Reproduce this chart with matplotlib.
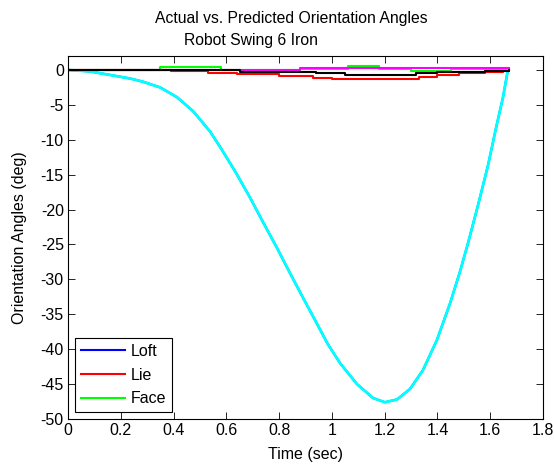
import matplotlib
matplotlib.use("Agg")
import matplotlib.pyplot as plt

plt.rcParams['font.family'] = ['Liberation Sans', 'DejaVu Sans']
plt.rcParams['axes.unicode_minus'] = False

# Loft (actual ~ predicted)
t_loft = [0, 0.083, 0.171, 0.235, 0.284, 0.349, 0.413, 0.474, 0.538, 0.576, 0.633,
          0.690, 0.739, 0.792, 0.841, 0.891, 0.944, 0.985, 1.031, 1.095, 1.156, 1.201,
          1.247, 1.296, 1.345, 1.398, 1.447, 1.485, 1.516, 1.554, 1.592, 1.622, 1.648, 1.667]
loft_actual = [0, -0.21, -0.79, -1.22, -1.68, -2.5, -3.9, -5.9, -8.8, -11.0, -14.5,
               -18.3, -21.8, -25.5, -29.08, -32.66, -36.39, -39.3, -42.0, -45.0, -47.0, -47.6,
               -47.2, -45.7, -43.0, -38.68, -33.52, -28.94, -24.79, -19.34, -13.61, -8.3, -4.0, 0]
loft_pred = loft_actual

# Lie
t_lie = [0, 0.26, 0.39, 0.53, 0.64, 0.80, 0.93, 1.0, 1.25, 1.33, 1.40, 1.48, 1.58, 1.65, 1.67]
lie_actual = [0, -0.05, -0.15, -0.38, -0.62, -0.86, -1.1, -1.34, -1.34, -0.95, -0.7, -0.45, -0.3, -0.1, 0]
t_lie_p = [0, 0.39, 0.65, 0.94, 1.05, 1.32, 1.40, 1.58, 1.67]
lie_pred = [0, -0.05, -0.3, -0.48, -0.67, -0.48, -0.3, -0.1, 0]

# Face
t_face = [0, 0.35, 0.58, 0.88, 1.06, 1.18, 1.30, 1.45, 1.67]
face_actual = [0, 0.38, 0.0, 0.1, 0.5, 0.2, -0.1, 0.1, 0]
t_face_p = [0, 0.88, 1.67]
face_pred = [0, 0.3, 0.3]

fig = plt.figure(figsize=(5.54, 4.66), dpi=100)
ax = fig.add_axes([68/554, 1-419/466, 475/554, 363/466])

lw = 1.5
ax.plot(t_loft, loft_actual, color=(0, 0, 1), lw=lw, label='Loft')
ax.plot(t_lie, lie_actual, color=(1, 0, 0), lw=lw, label='Lie', drawstyle='steps-post')
ax.plot(t_face, face_actual, color=(0, 1, 0), lw=lw, label='Face', drawstyle='steps-post')
ax.plot(t_loft, loft_pred, color=(0, 1, 1), lw=2.0)
ax.plot(t_face_p, face_pred, color=(1, 0, 1), lw=lw, drawstyle='steps-post')
ax.plot(t_lie_p, lie_pred, color='black', lw=lw, drawstyle='steps-post')

ax.set_xlim(0, 1.8)
ax.set_ylim(-50, 2)
ax.set_xticks([0, 0.2, 0.4, 0.6, 0.8, 1, 1.2, 1.4, 1.6, 1.8])
ax.set_xticklabels(['0', '0.2', '0.4', '0.6', '0.8', '1', '1.2', '1.4', '1.6', '1.8'])
ax.set_yticks(list(range(-50, 1, 5)))
ax.tick_params(direction='in', top=True, right=True, labelsize=11.5, length=5, width=0.6, pad=3)
for s in ax.spines.values():
    s.set_linewidth(0.8)

ax.set_xlabel('Time (sec)', fontsize=11.5)
ax.set_ylabel('Orientation Angles (deg)', fontsize=11.5)
ax.xaxis.set_label_coords(237/475, -36/363)
ax.yaxis.set_label_coords(-48/475, 0.5)
ax.xaxis.label.set_va('center')
ax.yaxis.label.set_va('center')

fig.text(291/554, 1-18/466, 'Actual vs. Predicted Orientation Angles', ha='center', va='center', fontsize=11.3)
fig.text(251/554, 1-40/466, 'Robot Swing 6 Iron', ha='center', va='center', fontsize=11.3)

leg = ax.legend(loc='lower left', bbox_to_anchor=(7/475, 7/363), borderaxespad=0,
                fancybox=False, framealpha=1, edgecolor='black', fontsize=11.5,
                handlelength=2.8, handletextpad=0.35, labelspacing=0.55, borderpad=0.35)
leg.get_frame().set_linewidth(0.8)

fig.savefig('out.png', dpi=100)
